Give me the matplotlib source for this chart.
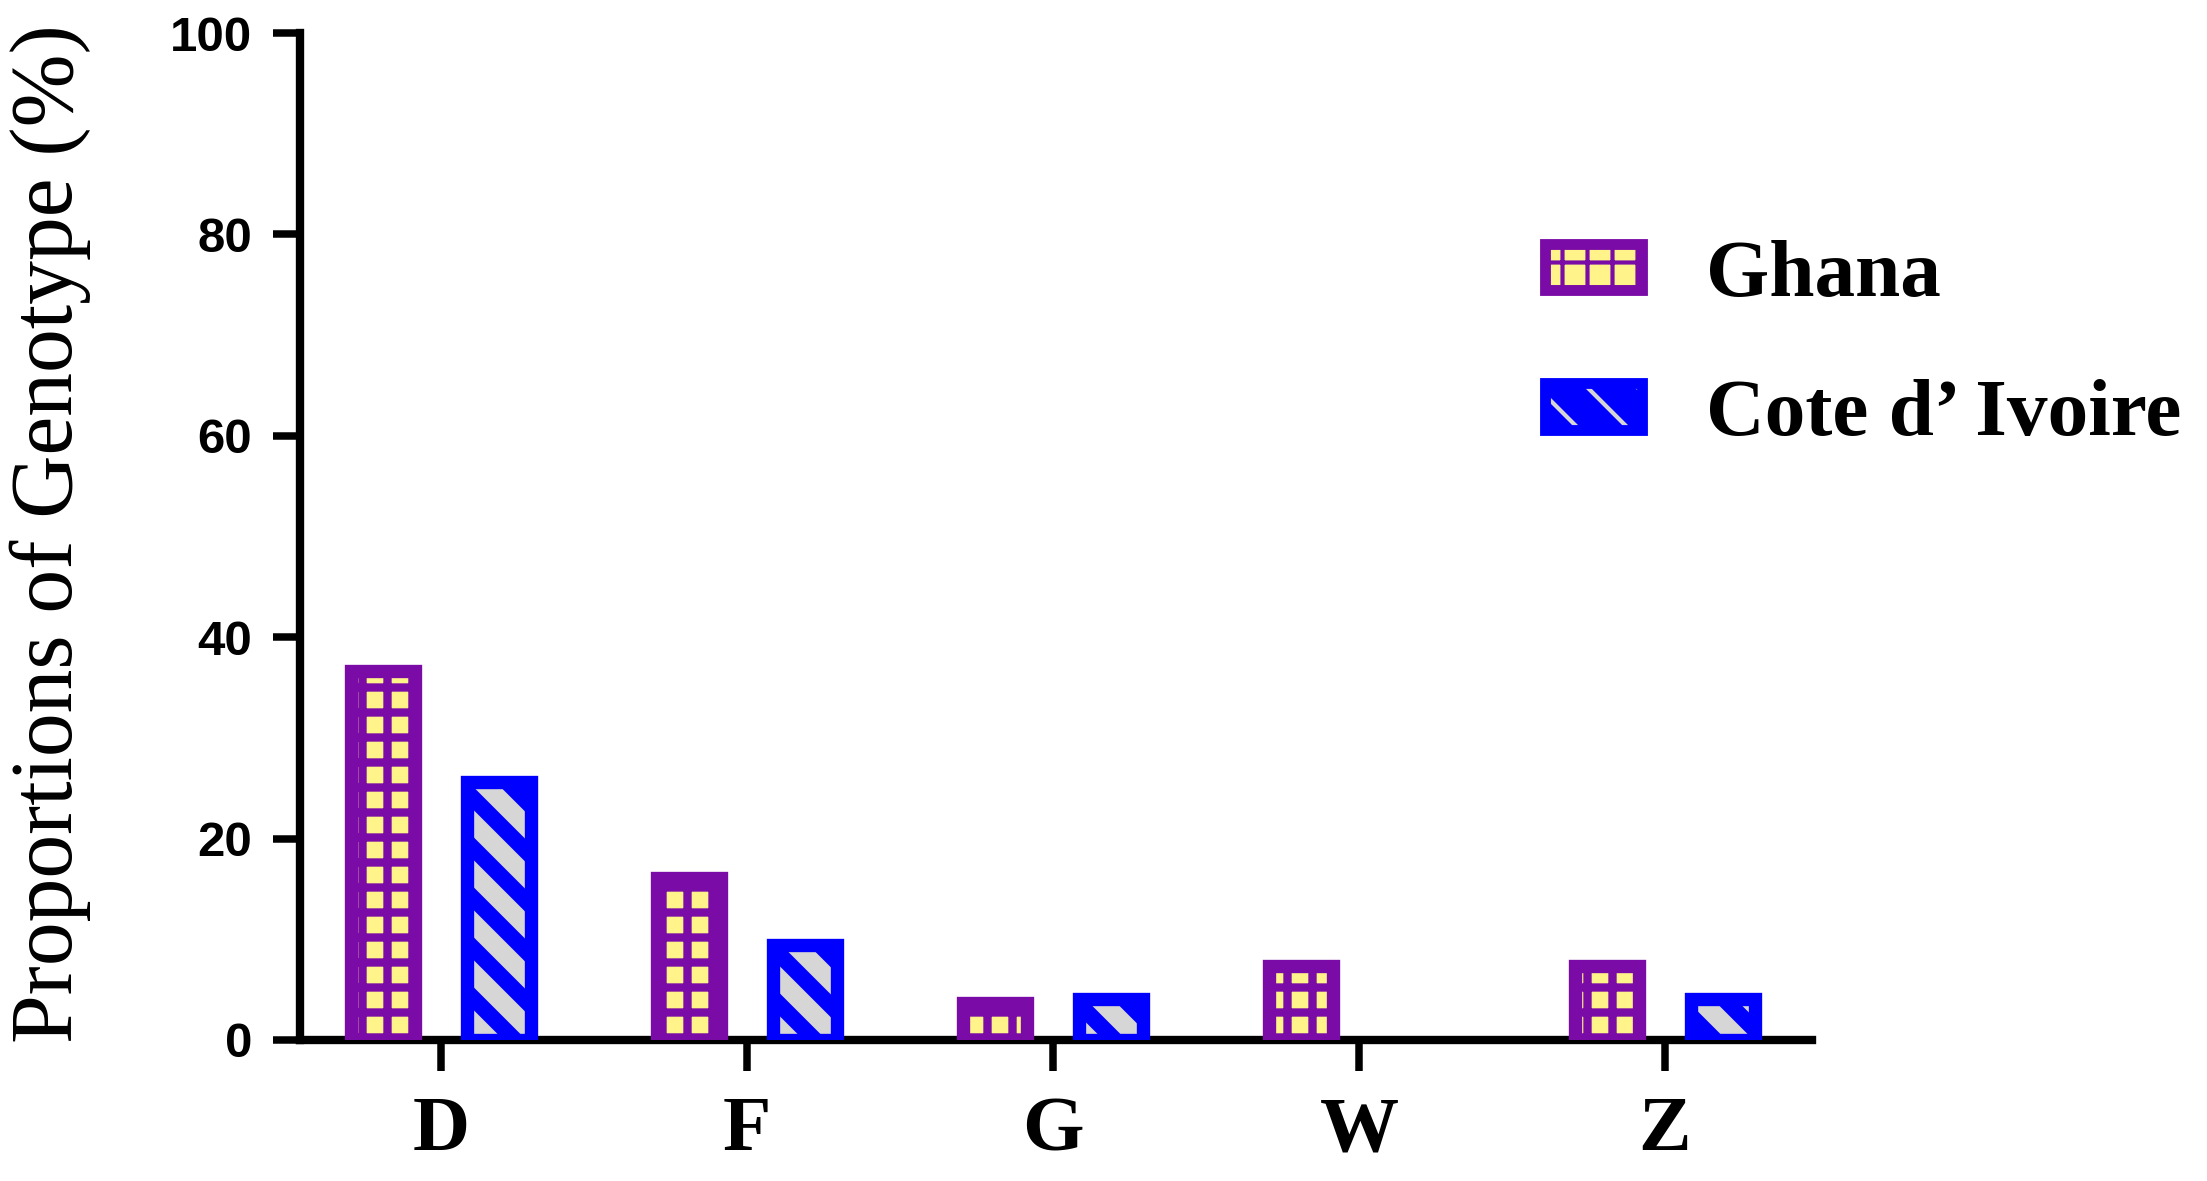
import matplotlib
matplotlib.use("Agg")
import matplotlib.pyplot as plt
from matplotlib.patches import Patch
import numpy as np

categories = ["D", "F", "G", "W", "Z"]
ghana = [36.6, 16.1, 3.7, 7.3, 7.3]
cote = [25.6, 9.4, 4.1, 0.0, 4.1]
series_names = ["Ghana", "Cote d\u2019 Ivoire"]
yticks = [0, 20, 40, 60, 80, 100]

DPI = 300
fig = plt.figure(figsize=(2207 / DPI, 1181 / DPI), dpi=DPI)
ax = fig.add_axes([0.136, 0.1194, 0.685, 0.8526])

purple = "#7A0BA6"
yellow = "#FFF38A"
blue = "#0000FF"
grey = "#D6D6D6"

x = np.arange(len(categories))
off = 0.19
w = 0.21
lw = 3.2
HLW_G = 2.0
HLW_C = 4.6


def set_hlw(artists, v):
    for a in artists:
        if hasattr(a, "set_hatch_linewidth"):
            a.set_hatch_linewidth(v)


with plt.rc_context({"hatch.linewidth": HLW_G}):
    b1 = ax.bar(x - off, ghana, w, facecolor=yellow, edgecolor=purple,
                hatch="++", linewidth=0, zorder=2)
set_hlw(b1, HLW_G)
with plt.rc_context({"hatch.linewidth": HLW_C}):
    b2 = ax.bar(x + off, cote, w, facecolor=blue, edgecolor=grey,
                hatch="\\\\", linewidth=0, zorder=2)
set_hlw(b2, HLW_C)
ax.bar(x - off, ghana, w, fill=False, edgecolor=purple, linewidth=lw, zorder=3)
ax.bar(x + off, [v if v > 0 else np.nan for v in cote], w, fill=False,
       edgecolor=blue, linewidth=lw, zorder=3)

ax.set_xlim(-0.46, 4.48)
ax.set_ylim(0, 100)
ax.set_yticks(yticks)
ax.set_xticks(x)
ax.set_xticklabels(categories, fontfamily="Liberation Serif", fontweight="bold",
                   fontsize=19)
ax.set_yticklabels([str(t) for t in yticks], fontfamily="Liberation Sans",
                   fontweight="bold", fontsize=11.8)
for s in ["top", "right"]:
    ax.spines[s].set_visible(False)
for s in ["left", "bottom"]:
    ax.spines[s].set_linewidth(2.0)
ax.tick_params(axis="y", length=6.5, width=1.8, pad=5)
ax.tick_params(axis="x", length=7.5, width=1.8, pad=6)
ax.set_ylabel("Proportions of Genotype (%)", fontfamily="Liberation Serif",
              fontsize=21)
ax.yaxis.label.set_va("center")
ax.yaxis.set_label_coords(50 / 2207, 0.5, transform=fig.transFigure)
ax.yaxis.label.set_y((1 - 534 / 1181))

# legend proxies
with plt.rc_context({"hatch.linewidth": HLW_G * 0.8}):
    g_fill = Patch(facecolor=yellow, edgecolor=purple, hatch="++", linewidth=0)
with plt.rc_context({"hatch.linewidth": HLW_C * 0.8}):
    c_fill = Patch(facecolor=blue, edgecolor=grey, hatch="\\\\", linewidth=0)
set_hlw([g_fill], HLW_G * 0.8)
set_hlw([c_fill], HLW_C * 0.8)
g_edge = Patch(fill=False, edgecolor=purple, linewidth=2.6)
c_edge = Patch(fill=False, edgecolor=blue, linewidth=2.6)

leg = fig.legend([(g_fill, g_edge), (c_fill, c_edge)], series_names,
                 loc="upper left", bbox_to_anchor=(0.700, 0.797), frameon=False,
                 prop={"family": "Liberation Serif", "weight": "bold", "size": 19.5},
                 handlelength=1.2, handleheight=0.5, handletextpad=0.78,
                 labelspacing=0.82, borderpad=0, borderaxespad=0)

fig.savefig("out.png", dpi=DPI)
